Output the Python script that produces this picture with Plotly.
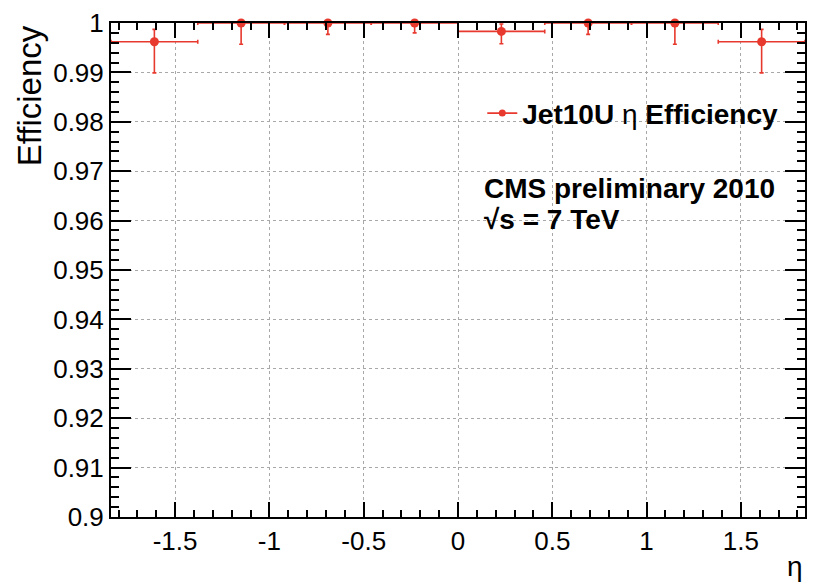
import plotly.graph_objects as go

# ---- data ----
eta_centers = [-1.61, -1.15, -0.69, -0.23, 0.23, 0.69, 1.15, 1.61]
eta_halfwidth = [0.23, 0.23, 0.23, 0.23, 0.23, 0.23, 0.23, 0.23]
efficiency = [0.9962, 1.0, 1.0, 1.0, 0.9983, 1.0, 1.0, 0.9962]
err_up = [0.0025, 0.0, 0.0, 0.0, 0.0015, 0.0, 0.0, 0.0025]
err_down = [0.0063, 0.0043, 0.0023, 0.0020, 0.0025, 0.0023, 0.0043, 0.0063]

x_tickvals = [-1.5, -1.0, -0.5, 0.0, 0.5, 1.0, 1.5]
x_ticktext = ["-1.5", "-1", "-0.5", "0", "0.5", "1", "1.5"]
y_tickvals = [0.90, 0.91, 0.92, 0.93, 0.94, 0.95, 0.96, 0.97, 0.98, 0.99, 1.00]
y_ticktext = ["0.9", "0.91", "0.92", "0.93", "0.94", "0.95", "0.96", "0.97", "0.98", "0.99", "1"]

RED = "#e8392e"
FONT = "Liberation Sans, Arial, Helvetica, sans-serif"

fig = go.Figure()
fig.add_trace(go.Scatter(
    x=eta_centers, y=efficiency, mode="markers",
    marker=dict(color=RED, size=9),
    error_x=dict(type="data", array=eta_halfwidth, color=RED, thickness=1.6, width=2),
    error_y=dict(type="data", symmetric=False, array=err_up, arrayminus=err_down,
                 color=RED, thickness=1.6, width=2),
    cliponaxis=False, showlegend=False,
))
fig.add_trace(go.Scatter(
    x=[None], y=[None], mode="lines+markers",
    line=dict(color=RED, width=1.6), marker=dict(color=RED, size=7),
    name="<b>Jet10U</b> η <b>Efficiency</b>", showlegend=True,
))

axis_common = dict(
    showline=True, linecolor="black", linewidth=2, mirror="allticks",
    ticks="inside", tickcolor="black", tickwidth=1.5,
    showgrid=True, gridcolor="#a8a8a8", griddash="dot", gridwidth=1,
    zeroline=False,
    tickfont=dict(family=FONT, size=26, color="black"),
)

fig.update_xaxes(
    range=[-1.84, 1.84], tickmode="array", tickvals=x_tickvals, ticktext=x_ticktext,
    ticklen=15,
    minor=dict(dtick=0.1, tick0=0, ticks="inside", ticklen=7, tickcolor="black", showgrid=False),
    **axis_common,
)
fig.update_yaxes(
    range=[0.9, 1.0], tickmode="array", tickvals=y_tickvals, ticktext=y_ticktext,
    ticklen=20,
    minor=dict(dtick=0.002, tick0=0.9, ticks="inside", ticklen=8, tickcolor="black", showgrid=False),
    **axis_common,
)

fig.update_layout(
    width=815, height=583,
    margin=dict(l=111, r=8, t=15, b=66),
    paper_bgcolor="white", plot_bgcolor="white",
    font=dict(family=FONT, color="black"),
    legend=dict(x=0.535, y=0.817, xanchor="left", yanchor="middle",
                bgcolor="rgba(0,0,0,0)", font=dict(family=FONT, size=28, color="black"),
                itemwidth=30),
    annotations=[
        dict(text="Efficiency", xref="paper", yref="paper", x=-0.117, y=1.0,
             xanchor="center", yanchor="top", textangle=-90, showarrow=False,
             font=dict(family=FONT, size=33, color="black")),
        dict(text="η", xref="paper", yref="paper", x=0.985, y=-0.1,
             xanchor="center", yanchor="middle", showarrow=False,
             font=dict(family=FONT, size=28, color="black")),
        dict(text="<b>CMS preliminary 2010</b>", xref="paper", yref="paper", x=0.534, y=0.665,
             xanchor="left", yanchor="middle", showarrow=False,
             font=dict(family=FONT, size=28, color="black")),
        dict(text="<b>√s = 7 TeV</b>", xref="paper", yref="paper",
             x=0.534, y=0.603, xanchor="left", yanchor="middle", showarrow=False,
             font=dict(family=FONT, size=28, color="black")),
    ],
)

fig.write_html("out.html")
